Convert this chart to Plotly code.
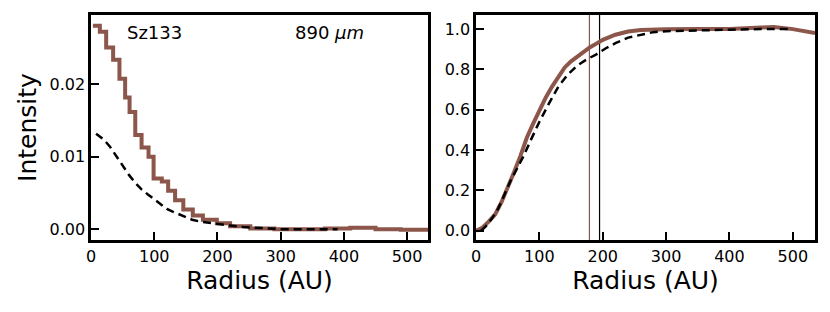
import plotly.graph_objects as go

BROWN = "#8c564b"

# ---- Left panel: radial intensity profile ----
obs_edges = [3, 14, 24, 35, 45, 54, 61, 70, 80, 91, 99, 112, 122, 133, 146, 161, 177, 199,
             220, 252, 290, 330, 370, 410, 450, 490, 535]
obs_intensity = [0.0281, 0.0273, 0.0251, 0.0234, 0.0208, 0.0182, 0.0162, 0.0130, 0.0113,
                 0.0100, 0.0070, 0.0066, 0.0053, 0.0040, 0.0027, 0.0019, 0.0013, 0.0008,
                 0.0004, 0.0001, 0.0000, 0.0000, 0.0001, 0.0002, 0.0000, -0.0001]

model_r = [8, 20, 30, 40, 50, 60, 70, 80, 90, 100, 110, 120, 130, 140, 150, 160, 175, 190,
           200, 220, 240, 260, 280, 300, 340, 390]
model_intensity = [0.0132, 0.0124, 0.0114, 0.0101, 0.0088, 0.0075, 0.0064, 0.0055, 0.0048,
                   0.0041, 0.0034, 0.0028, 0.0024, 0.0020, 0.0016, 0.0013, 0.0010, 0.0008,
                   0.0007, 0.0005, 0.0003, 0.0002, 0.0001, 0.0000, 0.0000, 0.0000]

# ---- Right panel: cumulative normalised flux ----
cum_obs_r = [0, 5, 10, 20, 30, 40, 50, 60, 70, 80, 90, 100, 110, 120, 130, 140, 150, 160,
             170, 180, 190, 200, 220, 240, 260, 280, 300, 350, 400, 450, 470, 500, 535]
cum_obs = [0.0, 0.005, 0.015, 0.045, 0.08, 0.14, 0.21, 0.29, 0.37, 0.46, 0.53, 0.60, 0.66,
           0.715, 0.765, 0.81, 0.84, 0.865, 0.89, 0.91, 0.928, 0.947, 0.972, 0.988, 0.995,
           0.998, 0.999, 1.0, 1.0, 1.008, 1.01, 1.0, 0.98]

cum_model_r = [8, 15, 25, 35, 45, 55, 65, 75, 85, 100, 115, 130, 145, 160, 175, 190, 205,
               220, 240, 260, 280, 300, 350, 400, 450, 495]
cum_model = [0.0, 0.02, 0.06, 0.11, 0.18, 0.25, 0.31, 0.37, 0.44, 0.54, 0.63, 0.715, 0.775,
             0.82, 0.85, 0.875, 0.905, 0.93, 0.958, 0.972, 0.985, 0.99, 0.995, 0.997, 1.0, 1.0]

radius_lines = [179, 195]          # brown (obs), black (model)
radius_line_colors = [BROWN, "black"]

x_ticks = [0, 100, 200, 300, 400, 500]
left_y_ticks = [0.0, 0.01, 0.02]
right_y_ticks = [0.0, 0.2, 0.4, 0.6, 0.8, 1.0]

W, H = 830, 312
FONT = "DejaVu Sans"
ML, MR, MT, MB = 91, 15, 15, 72
PW = W - ML - MR

fig = go.Figure()

# left
fig.add_trace(go.Scatter(x=obs_edges, y=obs_intensity + [obs_intensity[-1]], mode="lines",
                         line=dict(color=BROWN, width=4, shape="hv"), xaxis="x", yaxis="y",
                         showlegend=False))
fig.add_trace(go.Scatter(x=model_r, y=model_intensity, mode="lines",
                         line=dict(color="black", width=2.5, dash="8px,5px"),
                         xaxis="x", yaxis="y", showlegend=False))

# right
for rv, col in zip(radius_lines, radius_line_colors):
    fig.add_trace(go.Scatter(x=[rv, rv], y=[-0.046, 1.07], mode="lines",
                             line=dict(color=col, width=1.2), xaxis="x2", yaxis="y2",
                             showlegend=False))
fig.add_trace(go.Scatter(x=cum_obs_r, y=cum_obs, mode="lines",
                         line=dict(color=BROWN, width=4), xaxis="x2", yaxis="y2",
                         showlegend=False))
fig.add_trace(go.Scatter(x=cum_model_r, y=cum_model, mode="lines",
                         line=dict(color="black", width=2.5, dash="8px,5px"),
                         xaxis="x2", yaxis="y2", showlegend=False))

axis_common = dict(showgrid=False, zeroline=False, showline=True, linecolor="black",
                   linewidth=2.7, mirror=True, ticks="inside", ticklen=8, tickwidth=2,
                   tickcolor="black", automargin=False,
                   tickfont=dict(family=FONT, size=16, color="black"))

fig.update_layout(
    width=W, height=H,
    margin=dict(l=ML, r=MR, t=MT, b=MB, autoexpand=False),
    paper_bgcolor="white", plot_bgcolor="white",
    font=dict(family=FONT, color="black"),
    xaxis=dict(domain=[0, (428 - ML) / PW], range=[0, 533], tickvals=x_ticks,
               title=dict(text="Radius (AU)", font=dict(size=25), standoff=4),
               anchor="y", **axis_common),
    yaxis=dict(domain=[0, 1], range=[-0.0015, 0.0296], tickvals=left_y_ticks,
               tickformat=".2f",
               title=dict(text="Intensity", font=dict(size=25), standoff=6),
               anchor="x", **axis_common),
    xaxis2=dict(domain=[(476 - ML) / PW, 1], range=[0, 535], tickvals=x_ticks,
                title=dict(text="Radius (AU)", font=dict(size=25), standoff=4),
                anchor="y2", **axis_common),
    yaxis2=dict(domain=[0, 1], range=[-0.046, 1.07], tickvals=right_y_ticks,
                tickformat=".1f", anchor="x2", **axis_common),
    annotations=[
        dict(text="Sz133", x=0.10, y=0.92, xref="x domain", yref="y domain",
             xanchor="left", yanchor="middle", showarrow=False,
             font=dict(family=FONT, size=18, color="black")),
        dict(text="890 <i>μm</i>", x=0.60, y=0.92, xref="x domain", yref="y domain",
             xanchor="left", yanchor="middle", showarrow=False,
             font=dict(family=FONT, size=18, color="black")),
    ],
)

fig.write_html("out.html", config={"displayModeBar": False, "staticPlot": True},
               post_script="document.body.style.margin='0px';document.body.style.overflow='hidden';")
